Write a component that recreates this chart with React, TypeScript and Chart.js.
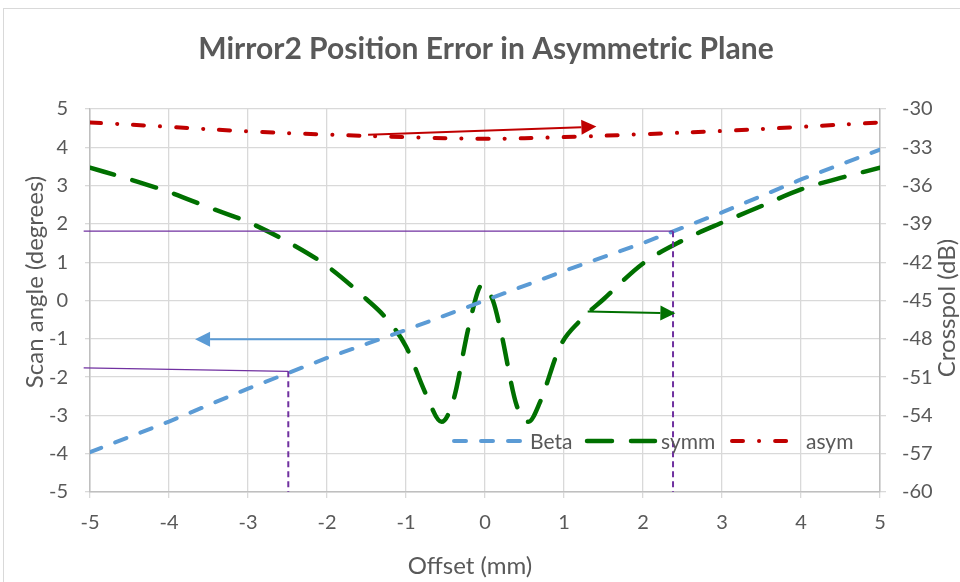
import React, { useEffect, useRef } from 'react';
import { Chart, registerables } from 'chart.js';

Chart.register(...registerables);

// ---- Data ----
const betaX = [-5, -4, -3, -2, -1, 0, 1, 2, 3, 4, 5];
const betaY = [-3.96, -3.16, -2.3, -1.5, -0.77, 0, 0.77, 1.5, 2.3, 3.16, 3.94];

const symmX = [-5, -4.5, -4, -3.5, -3, -2.5, -2, -1.5, -1.25, -1, -0.75, -0.55, -0.4, -0.2, -0.04, 0.1, 0.2, 0.4, 0.55, 0.7, 0.95, 1.2, 1.5, 2, 2.5, 3, 3.5, 4, 4.5, 5];
const symmY = [-34.6, -35.5, -36.5, -37.7, -38.85, -40.4, -42.3, -44.9, -46.4, -48.6, -52.3, -54.5, -52.8, -46.9, -43.8, -45.0, -47.4, -53.2, -54.5, -52.9, -48.6, -46.6, -44.9, -42.1, -40.3, -38.9, -37.6, -36.3, -35.4, -34.6];

const asymX = [-5, -4, -3, -2, -1, 0, 1, 2, 3, 4, 5];
const asymY = [-31.05, -31.4, -31.75, -32.0, -32.2, -32.33, -32.2, -31.97, -31.72, -31.4, -31.05];

const seriesNames = ['Beta', 'symm', 'asym'];

// guide lines (offset, scan angle)
const guideTopH = [[-5.08, 1.81], [2.38, 1.81]];
const guideTopV = [[2.38, 1.81], [2.38, -5]];
const guideLowH = [[-5.08, -1.76], [-2.49, -1.85]];
const guideLowV = [[-2.49, -1.85], [-2.49, -5]];

// annotation arrows: [from, to] in (offset, scan angle)
const arrowRed = [[-1.48, 4.33], [1.41, 4.54]];
const arrowBlue = [[-1.35, -1.01], [-3.67, -1.01]];
const arrowGreen = [[1.3, -0.29], [2.41, -0.33]];

const xTicks = [-5, -4, -3, -2, -1, 0, 1, 2, 3, 4, 5];
const yTicks = [-5, -4, -3, -2, -1, 0, 1, 2, 3, 4, 5];
const y2Ticks = [-60, -57, -54, -51, -48, -45, -42, -39, -36, -33, -30];

const titleText = 'Mirror2 Position Error in Asymmetric Plane';
const xTitle = 'Offset (mm)';
const yTitle = 'Scan angle (degrees)';
const y2Title = 'Crosspol (dB)';

const BLUE = '#5b9bd5';
const GREEN = '#007000';
const RED = '#c00000';
const PURPLE = '#7030a0';
const TEXT = '#595959';
const FONT = 'Lato';

const pts = (xs: number[], ys: number[]) => xs.map((x, i) => ({ x, y: ys[i] }));
const pairPts = (arr: number[][]) => arr.map(([x, y]) => ({ x, y }));

const BLUE_DASH = [12, 15];
const GREEN_DASH = [25, 19];
const RED_DASH = [11, 16, 0.1, 16];

const overlayPlugin = {
  id: 'overlay',
  afterDatasetsDraw(chart: any) {
    const { ctx, scales } = chart;
    const xs = scales.x;
    const ys = scales.y;
    const drawArrow = (a: number[][], color: string, width: number) => {
      const x1 = xs.getPixelForValue(a[0][0]);
      const y1 = ys.getPixelForValue(a[0][1]);
      const x2 = xs.getPixelForValue(a[1][0]);
      const y2 = ys.getPixelForValue(a[1][1]);
      const ang = Math.atan2(y2 - y1, x2 - x1);
      const hl = 15;
      const hw = 7.5;
      const bx = x2 - hl * Math.cos(ang);
      const by = y2 - hl * Math.sin(ang);
      ctx.save();
      ctx.strokeStyle = color;
      ctx.fillStyle = color;
      ctx.lineWidth = width;
      ctx.setLineDash([]);
      ctx.beginPath();
      ctx.moveTo(x1, y1);
      ctx.lineTo(bx, by);
      ctx.stroke();
      ctx.beginPath();
      ctx.moveTo(x2, y2);
      ctx.lineTo(bx + hw * Math.sin(ang), by - hw * Math.cos(ang));
      ctx.lineTo(bx - hw * Math.sin(ang), by + hw * Math.cos(ang));
      ctx.closePath();
      ctx.fill();
      ctx.restore();
    };
    drawArrow(arrowRed, RED, 2);
    drawArrow(arrowBlue, BLUE, 2);
    drawArrow(arrowGreen, GREEN, 2);
  },
  afterDraw(chart: any) {
    const { ctx } = chart;
    ctx.save();
    ctx.fillStyle = TEXT;
    // title
    ctx.font = `bold 30px ${FONT}`;
    ctx.textAlign = 'center';
    ctx.textBaseline = 'alphabetic';
    ctx.fillText(titleText, 486, 59);
    // x title
    ctx.font = `24px ${FONT}`;
    ctx.textBaseline = 'middle';
    ctx.fillText(xTitle, 470, 566);
    // y titles
    ctx.save();
    ctx.translate(35, 282);
    ctx.rotate(-Math.PI / 2);
    ctx.fillText(yTitle, 0, 0);
    ctx.restore();
    ctx.save();
    ctx.translate(947, 308);
    ctx.rotate(-Math.PI / 2);
    ctx.fillText(y2Title, 0, 0);
    ctx.restore();
    // legend
    const items = [
      { color: BLUE, dash: BLUE_DASH, width: 4, x0: 454, x1: 522, tx: 530 },
      { color: GREEN, dash: GREEN_DASH, width: 4.5, x0: 587, x1: 655, tx: 661 },
      { color: RED, dash: RED_DASH, width: 4, x0: 732, x1: 789, tx: 806 },
    ];
    const ly = 441;
    ctx.font = `21px ${FONT}`;
    ctx.textAlign = 'left';
    ctx.textBaseline = 'middle';
    items.forEach((it, i) => {
      ctx.save();
      ctx.strokeStyle = it.color;
      ctx.lineWidth = it.width;
      ctx.lineCap = 'round';
      ctx.setLineDash(it.dash);
      ctx.beginPath();
      ctx.moveTo(it.x0, ly);
      ctx.lineTo(it.x1, ly);
      ctx.stroke();
      ctx.restore();
      ctx.fillStyle = TEXT;
      ctx.fillText(seriesNames[i], it.tx, ly + 1);
    });
    ctx.restore();
  },
};

export default function App() {
  const ref = useRef<HTMLCanvasElement | null>(null);
  useEffect(() => {
    if (!ref.current) return;
    const guide = (arr: number[][], dashed: boolean) => ({
      label: '',
      data: pairPts(arr),
      borderColor: PURPLE,
      borderWidth: dashed ? 2 : 1.3,
      borderDash: dashed ? [6, 4] : [],
      pointRadius: 0,
      tension: 0,
      fill: false,
      yAxisID: 'y',
      clip: false as any,
    });
    const chart = new Chart(ref.current, {
      type: 'line',
      data: {
        datasets: [
          guide(guideTopH, false),
          guide(guideTopV, true),
          guide(guideLowH, false),
          guide(guideLowV, true),
          {
            label: seriesNames[0],
            data: pts(betaX, betaY),
            borderColor: BLUE,
            borderWidth: 4,
            borderDash: BLUE_DASH,
            borderCapStyle: 'round',
            pointRadius: 0,
            tension: 0,
            yAxisID: 'y',
          },
          {
            label: seriesNames[1],
            data: pts(symmX, symmY),
            borderColor: GREEN,
            borderWidth: 4.5,
            borderDash: GREEN_DASH,
            borderCapStyle: 'round',
            pointRadius: 0,
            cubicInterpolationMode: 'monotone',
            yAxisID: 'y2',
          },
          {
            label: seriesNames[2],
            data: pts(asymX, asymY),
            borderColor: RED,
            borderWidth: 4,
            borderDash: RED_DASH,
            borderCapStyle: 'round',
            pointRadius: 0,
            tension: 0.4,
            yAxisID: 'y2',
          },
        ] as any,
      },
      plugins: [overlayPlugin],
      options: {
        animation: false,
        responsive: false,
        maintainAspectRatio: false,
        layout: { padding: { top: 109, left: 0, right: 0, bottom: 0 } },
        plugins: {
          legend: { display: false },
          title: { display: false },
          tooltip: { enabled: false },
        },
        scales: {
          x: {
            type: 'linear',
            min: -5,
            max: 5,
            afterFit: (s: any) => { s.height = 90; },
            afterBuildTicks: (s: any) => { s.ticks = xTicks.map((v) => ({ value: v })); },
            ticks: { color: TEXT, font: { family: FONT, size: 20 }, padding: 13, maxRotation: 0 },
            grid: { color: '#d9d9d9', tickLength: 6, lineWidth: 1.3 },
            border: { color: '#bfbfbf', width: 1.5 },
          },
          y: {
            type: 'linear',
            position: 'left',
            min: -5,
            max: 5,
            afterFit: (s: any) => { s.width = 90; },
            afterBuildTicks: (s: any) => { s.ticks = yTicks.map((v) => ({ value: v })); },
            ticks: { color: TEXT, font: { family: FONT, size: 20 }, padding: 17 },
            grid: { color: '#d9d9d9', tickLength: 5, lineWidth: 1.3 },
            border: { color: '#bfbfbf', width: 1.5 },
          },
          y2: {
            type: 'linear',
            position: 'right',
            min: -60,
            max: -30,
            afterFit: (s: any) => { s.width = 80; },
            afterBuildTicks: (s: any) => { s.ticks = y2Ticks.map((v) => ({ value: v })); },
            ticks: { color: TEXT, font: { family: FONT, size: 20 }, padding: 16 },
            grid: { color: '#d9d9d9', tickLength: 6, drawOnChartArea: false, lineWidth: 1.3 },
            border: { color: '#bfbfbf', width: 1.5 },
          },
        },
      } as any,
    });
    return () => chart.destroy();
  }, []);
  return (
    <div style={{ position: 'fixed', left: 0, top: 0, width: 960, height: 582, background: '#fff', overflow: 'hidden' }}>
      <div style={{ position: 'absolute', left: 3, top: 8, width: 1000, height: 700, border: '1px solid #d9d9d9' }} />
      <canvas ref={ref} width={960} height={582} style={{ position: 'absolute', left: 0, top: 0, width: 960, height: 582 }} />
    </div>
  );
}
